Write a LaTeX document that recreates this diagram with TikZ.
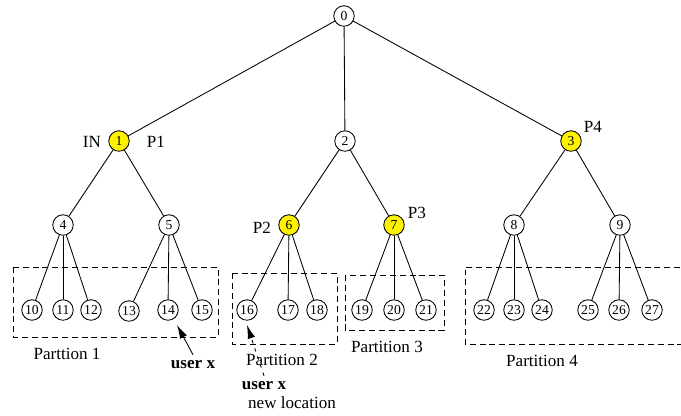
\documentclass[tikz,border=0pt]{standalone}
\usepackage{fontspec}
\setmainfont{Liberation Serif}
\usetikzlibrary{arrows.meta}
\begin{document}
\begin{tikzpicture}[>={Latex[length=8pt,width=4.5pt]},x=0.0206cm,y=-0.0206cm,line width=0.5pt,
  vertex/.style={circle,draw,inner sep=0pt,minimum size=12pt,font=\fontsize{8}{9}\selectfont},
  chosen/.style={vertex,fill=yellow},
  lbl/.style={font=\fontsize{10}{12}\selectfont},
  part/.style={dash pattern=on 3.5pt off 2.3pt}]
\useasboundingbox (0,0) rectangle (681,415);

% root, level 1 and level 2
\node [vertex] (n0) at (344,16) {0};
\node [chosen] (n1) at (119,141) {1};
\node [vertex] (n2) at (345,141) {2};
\node [chosen] (n3) at (571,141) {3};
\node [vertex] (n4) at (63,225) {4};
\node [vertex] (n5) at (169,225) {5};
\node [chosen] (n6) at (289,225) {6};
\node [chosen] (n7) at (394,225) {7};
\node [vertex] (n8) at (514,225) {8};
\node [vertex] (n9) at (620,225) {9};

% leaves
\node [vertex] (n10) at (32,310) {10};
\node [vertex] (n11) at (63,310) {11};
\node [vertex] (n12) at (91,310) {12};
\node [vertex] (n13) at (129,311) {13};
\node [vertex] (n14) at (168,310) {14};
\node [vertex] (n15) at (202,310) {15};
\node [vertex] (n16) at (247,310) {16};
\node [vertex] (n17) at (288,310) {17};
\node [vertex] (n18) at (317,310) {18};
\node [vertex] (n19) at (362,310) {19};
\node [vertex] (n20) at (394,310) {20};
\node [vertex] (n21) at (426,310) {21};
\node [vertex] (n22) at (484,310) {22};
\node [vertex] (n23) at (514,310) {23};
\node [vertex] (n24) at (542,310) {24};
\node [vertex] (n25) at (588,310) {25};
\node [vertex] (n26) at (619,310) {26};
\node [vertex] (n27) at (652,310) {27};

% tree edges
\draw (n0) -- (n1);  \draw (n0) -- (n2);  \draw (n0) -- (n3);
\draw (n1) -- (n4);  \draw (n1) -- (n5);
\draw (n2) -- (n6);  \draw (n2) -- (n7);
\draw (n3) -- (n8);  \draw (n3) -- (n9);
\draw (n4) -- (n10); \draw (n4) -- (n11); \draw (n4) -- (n12);
\draw (n5) -- (n13); \draw (n5) -- (n14); \draw (n5) -- (n15);
\draw (n6) -- (n16); \draw (n6) -- (n17); \draw (n6) -- (n18);
\draw (n7) -- (n19); \draw (n7) -- (n20); \draw (n7) -- (n21);
\draw (n8) -- (n22); \draw (n8) -- (n23); \draw (n8) -- (n24);
\draw (n9) -- (n25); \draw (n9) -- (n26); \draw (n9) -- (n27);

% labels of the partition heads
\node [lbl] (in) at (92,142) {IN};
\node [lbl] (p1) at (156,142) {P1};
\node [lbl] (p2) at (262,228) {P2};
\node [lbl] (p3) at (417,213) {P3};
\node [lbl] (p4) at (593,127) {P4};

% the partitions
\draw [part] (13,267) rectangle (218,337);
\draw [part] (232,273) rectangle (337,344);
\draw [part] (345,275) rectangle (444,330);
\draw [part] (700,267) -- (465,267) -- (465,344) -- (700,344);
\node [lbl] (pt1) at (67,354) {Parttion 1};
\node [lbl] (pt2) at (282,360) {Partition 2};
\node [lbl] (pt3) at (387,347) {Partition 3};
\node [lbl] (pt4) at (542,361) {Partition 4};

% user x and its move
\node [lbl,font=\fontsize{10}{12}\selectfont\bfseries] (ux) at (193,365) {user x};
\draw [->] (ux.north) -- ([shift={(9,15)}]n14.center);
\node [lbl,font=\fontsize{10}{12}\selectfont\bfseries] (uxnew) at (264,386) {user x};
\node [lbl] (newloc) at (292,403) {new location};
\draw [->,dash pattern=on 2pt off 3pt] (uxnew.north) -- ([shift={(0,15)}]n16.center);

\end{tikzpicture}
\end{document}
